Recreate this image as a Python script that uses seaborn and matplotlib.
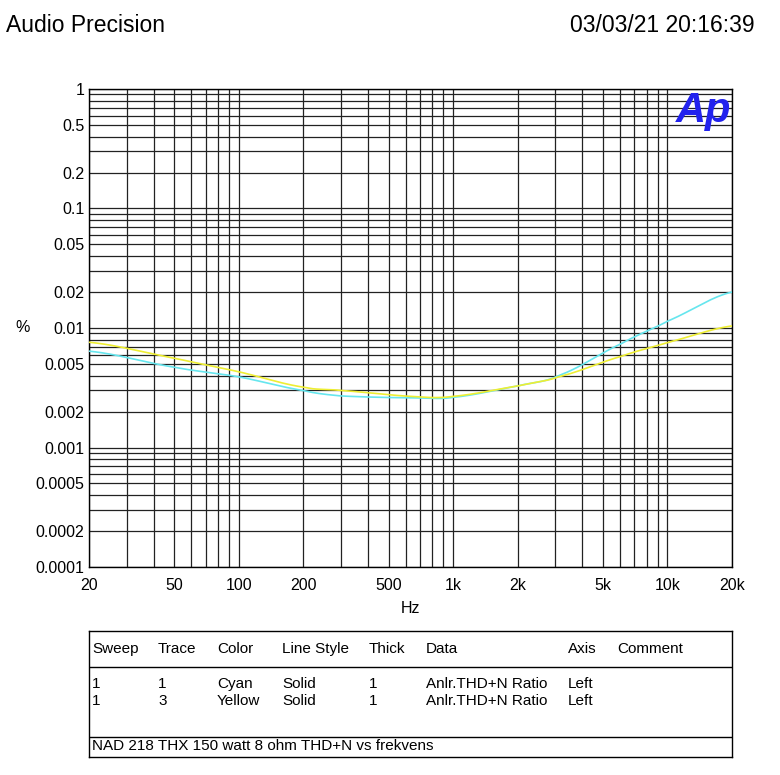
import matplotlib
matplotlib.use("Agg")
import matplotlib.pyplot as plt
from matplotlib.ticker import NullFormatter, LogLocator
import seaborn as sns
import pandas as pd
import numpy as np

freq = [20, 50, 100, 200, 300, 686, 1000, 2000, 3100, 6100, 10100, 20000]
cyan = [0.0064, 0.0047, 0.0039, 0.0030, 0.0027, 0.0026, 0.00263, 0.00327, 0.0040, 0.0074, 0.0115, 0.020]
yellow = [0.0076, 0.0056, 0.0043, 0.0032, 0.0030, 0.00266, 0.00268, 0.00327, 0.0039, 0.0058, 0.0076, 0.0104]
yticks = [1, 0.5, 0.2, 0.1, 0.05, 0.02, 0.01, 0.005, 0.002, 0.001, 0.0005, 0.0002, 0.0001]
ylabels = ["1", "0.5", "0.2", "0.1", "0.05", "0.02", "0.01", "0.005", "0.002", "0.001", "0.0005", "0.0002", "0.0001"]
xticks = [20, 50, 100, 200, 500, 1000, 2000, 5000, 10000, 20000]
xlabels = ["20", "50", "100", "200", "500", "1k", "2k", "5k", "10k", "20k"]

plt.rcParams["font.family"] = "Liberation Sans"
fig = plt.figure(figsize=(7.8, 7.75), dpi=100)
W, H = 780, 775
ax = fig.add_axes([89 / W, 1 - 567 / H, (732 - 89) / W, (567 - 89) / H])

lf = np.log10(freq)
fine = np.linspace(lf[0], lf[-1], 300)
def smooth(vals):
    lv = np.log10(vals)
    out = []
    for x in fine:
        i = min(max(np.searchsorted(lf, x) - 1, 0), len(lf) - 2)
        p0 = lv[max(i - 1, 0)]; p1 = lv[i]; p2 = lv[i + 1]; p3 = lv[min(i + 2, len(lv) - 1)]
        t = (x - lf[i]) / (lf[i + 1] - lf[i])
        out.append(0.5 * ((2 * p1) + (-p0 + p2) * t + (2 * p0 - 5 * p1 + 4 * p2 - p3) * t**2 + (-p0 + 3 * p1 - 3 * p2 + p3) * t**3))
    return 10 ** np.array(out)

df = pd.DataFrame({"Hz": np.concatenate([10 ** fine, 10 ** fine]),
                   "val": np.concatenate([smooth(cyan), smooth(yellow)]),
                   "trace": ["Cyan"] * len(fine) + ["Yellow"] * len(fine)})
ax.set_xscale("log")
ax.set_yscale("log")
sns.lineplot(data=df, x="Hz", y="val", hue="trace", palette={"Cyan": "#66e6ee", "Yellow": "#eeee33"},
             linewidth=1.2, legend=False, ax=ax, zorder=3)
ax.set_xlim(20, 20000)
ax.set_ylim(0.0001, 1)
ax.xaxis.set_minor_locator(LogLocator(base=10, subs=np.arange(2, 10)))
ax.yaxis.set_minor_locator(LogLocator(base=10, subs=np.arange(2, 10)))
ax.grid(True, which="both", color="#222222", linewidth=0.9)
ax.set_xticks(xticks, xlabels)
ax.set_yticks(yticks, ylabels)
ax.xaxis.set_minor_formatter(NullFormatter())
ax.yaxis.set_minor_formatter(NullFormatter())
ax.tick_params(which="both", length=0, labelsize=11.5, colors="black")
ax.tick_params(axis="x", pad=8)
for s in ax.spines.values():
    s.set_color("black"); s.set_linewidth(1)
ax.set_xlabel("Hz", fontsize=11.5, labelpad=6)
ax.set_ylabel("")
fig.text(15 / W, 1 - 328 / H, "%", fontsize=11.5, va="center", ha="left")
fig.text(6 / W, 1 - 25 / H, "Audio Precision", fontsize=16.5, va="center", ha="left")
fig.text(755 / W, 1 - 25 / H, "03/03/21 20:16:39", fontsize=16.5, va="center", ha="right")
ax.text(0.955, 0.955, "Ap", transform=ax.transAxes, fontsize=30, fontweight="bold", style="italic",
        color="#2222ee", ha="center", va="center", zorder=5)

tab = fig.add_axes([89 / W, 1 - 757 / H, (732 - 89) / W, (757 - 631) / H])
tab.set_xlim(89, 732); tab.set_ylim(757, 631)
tab.set_xticks([]); tab.set_yticks([])
for s in tab.spines.values():
    s.set_linewidth(1)
tab.axhline(667, color="black", lw=1)
tab.axhline(737, color="black", lw=1)
cols = [92, 158, 217, 282, 369, 426, 568, 617]
rows = [["Sweep", "Trace", "Color", "Line Style", "Thick", "Data", "Axis", "Comment"],
        ["1", "1", "Cyan", "Solid", "1", "Anlr.THD+N Ratio", "Left", ""],
        ["1", "3", "Yellow", "Solid", "1", "Anlr.THD+N Ratio", "Left", ""]]
for r, y in zip(rows, [649, 684, 701]):
    for c, x in zip(r, cols):
        tab.text(x, y, c, fontsize=11, va="center", ha="left")
tab.text(92, 746, "NAD 218 THX 150 watt 8 ohm THD+N vs frekvens", fontsize=11, va="center", ha="left")
fig.savefig("out.png", dpi=100)
